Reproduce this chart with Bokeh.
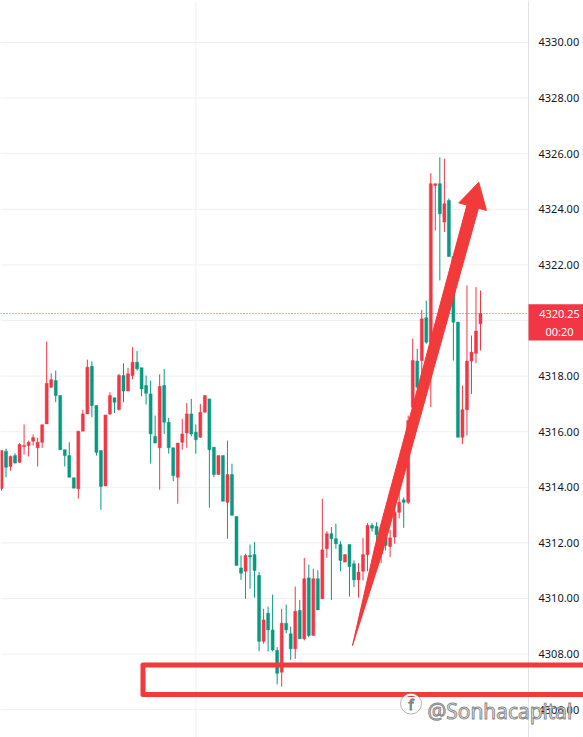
from bokeh.plotting import figure
from bokeh.models import Range1d, ColumnDataSource
from bokeh.core.properties import value
from bokeh.embed import file_html
from bokeh.resources import INLINE

# ---- candle data (red = rising, green = falling) ----
opens = [4313.96, 4315.30, 4314.75, 4315.14, 4314.90, 4315.47, 4315.50, 4315.66, 4315.42, 4315.62,
         4316.28, 4317.60, 4317.84, 4317.30, 4315.35, 4315.14, 4314.34, 4313.95, 4316.02, 4316.64,
         4318.35, 4316.94, 4315.32, 4314.05, 4316.64, 4317.22, 4316.80, 4318.02, 4317.46, 4318.02,
         4318.50, 4318.30, 4317.66, 4317.36, 4315.83, 4315.42, 4317.66, 4316.34, 4315.42, 4314.36,
         4315.62, 4315.95, 4316.64, 4315.98, 4315.80, 4316.70, 4317.18, 4315.44, 4314.46, 4315.14,
         4313.46, 4314.46, 4312.95, 4311.10, 4310.98, 4311.55, 4311.58, 4310.83, 4308.46, 4309.47,
         4308.87, 4308.13, 4307.35, 4309.11, 4308.73, 4308.19, 4309.57, 4308.55, 4310.74, 4308.67,
         4310.71, 4309.99, 4311.79, 4312.33, 4312.15, 4311.94, 4311.31, 4311.94, 4311.25, 4310.67,
         4310.98, 4311.58, 4312.63, 4312.59, 4311.61, 4312.21, 4311.87, 4312.21, 4313.10, 4313.55,
         4313.46, 4316.88, 4318.54, 4318.56, 4320.10, 4319.22, 4324.86, 4324.92, 4323.54, 4324.32,
         4322.30, 4319.94, 4315.80, 4316.79, 4318.54, 4318.82, 4319.88]
highs = [4315.32, 4315.39, 4315.14, 4315.22, 4315.59, 4316.26, 4315.68, 4315.90, 4315.78, 4316.25,
         4319.24, 4318.10, 4318.20, 4317.30, 4315.35, 4315.62, 4314.34, 4316.02, 4316.79, 4318.59,
         4318.53, 4316.94, 4315.32, 4316.60, 4317.42, 4317.22, 4318.08, 4318.46, 4318.30, 4319.04,
         4318.90, 4318.30, 4318.02, 4317.84, 4316.58, 4318.06, 4318.26, 4316.50, 4315.42, 4315.59,
         4316.46, 4317.03, 4317.18, 4316.26, 4317.00, 4317.30, 4317.18, 4315.44, 4315.14, 4315.14,
         4315.68, 4314.85, 4312.95, 4311.55, 4311.61, 4311.94, 4312.03, 4310.95, 4309.63, 4309.71,
         4310.14, 4308.25, 4309.63, 4309.78, 4308.99, 4310.43, 4309.95, 4311.46, 4311.22, 4311.07,
         4311.01, 4313.59, 4312.42, 4312.57, 4312.69, 4312.06, 4311.58, 4311.94, 4311.37, 4311.27,
         4312.18, 4312.71, 4312.71, 4312.74, 4312.57, 4312.47, 4312.47, 4314.00, 4314.17, 4313.64,
         4316.58, 4319.35, 4318.98, 4320.38, 4320.71, 4325.30, 4324.92, 4325.87, 4325.82, 4324.39,
         4322.30, 4319.94, 4317.66, 4321.26, 4319.46, 4321.20, 4321.08]
lows = [4313.88, 4314.36, 4314.60, 4314.86, 4314.87, 4315.18, 4315.11, 4315.50, 4314.75, 4315.42,
        4316.28, 4317.58, 4317.06, 4315.35, 4314.75, 4314.36, 4313.97, 4313.59, 4316.02, 4316.64,
        4316.52, 4315.14, 4313.19, 4314.05, 4316.60, 4316.67, 4316.76, 4317.06, 4317.46, 4317.88,
        4318.20, 4317.27, 4316.98, 4314.85, 4315.59, 4313.91, 4315.92, 4315.21, 4314.22, 4313.41,
        4315.35, 4315.42, 4315.83, 4315.21, 4315.78, 4316.70, 4313.27, 4314.36, 4314.46, 4313.50,
        4312.15, 4312.99, 4311.19, 4310.67, 4309.99, 4310.35, 4310.03, 4308.10, 4308.37, 4308.10,
        4308.10, 4306.91, 4306.83, 4308.75, 4307.79, 4307.83, 4308.55, 4308.49, 4308.61, 4308.67,
        4309.59, 4309.99, 4311.46, 4309.95, 4311.79, 4310.98, 4311.31, 4310.07, 4310.41, 4310.03,
        4310.65, 4310.98, 4312.41, 4311.37, 4311.27, 4311.73, 4311.49, 4311.97, 4312.88, 4312.54,
        4313.40, 4316.52, 4317.54, 4317.63, 4319.16, 4316.88, 4323.24, 4321.44, 4323.18, 4322.30,
        4318.56, 4315.80, 4315.56, 4315.86, 4317.36, 4318.46, 4318.92]
closes = [4315.32, 4314.72, 4315.11, 4314.87, 4315.54, 4315.50, 4315.62, 4315.79, 4315.62, 4316.25,
          4317.74, 4317.87, 4317.30, 4315.35, 4315.14, 4314.36, 4313.97, 4316.02, 4316.64, 4318.32,
          4316.94, 4315.26, 4314.03, 4316.60, 4317.30, 4317.06, 4318.02, 4317.46, 4318.08, 4318.50,
          4318.26, 4317.54, 4317.38, 4315.92, 4315.59, 4317.63, 4316.34, 4315.42, 4314.42, 4315.59,
          4315.92, 4316.64, 4315.92, 4315.71, 4316.70, 4317.30, 4315.35, 4314.46, 4315.14, 4313.50,
          4314.46, 4312.99, 4311.19, 4310.91, 4311.55, 4311.49, 4311.01, 4308.46, 4309.23, 4308.87,
          4308.15, 4307.31, 4309.11, 4308.87, 4308.19, 4309.54, 4308.55, 4310.71, 4308.67, 4310.71,
          4309.59, 4311.75, 4312.33, 4312.15, 4311.97, 4311.37, 4311.58, 4311.15, 4310.67, 4310.95,
          4311.58, 4312.63, 4312.53, 4312.30, 4312.33, 4311.91, 4312.18, 4313.10, 4313.46, 4313.46,
          4316.40, 4318.56, 4317.60, 4320.06, 4319.22, 4324.92, 4324.92, 4323.84, 4324.20, 4322.30,
          4319.94, 4315.80, 4316.79, 4318.54, 4318.86, 4319.62, 4320.25]

tick_values = [4306, 4308, 4310, 4312, 4314, 4316, 4318, 4320, 4322, 4324, 4326, 4328, 4330]
last_price = 4320.25
countdown = "00:20"
watermark = "@Sonhacapital"

# annotation shapes (bar index, price)
arrow_x = [77.67, 82.65, 102.99, 101.19, 105.62, 107.32, 105.55, 84.55]
arrow_y = [4308.31, 4311.88, 4324.15, 4324.23, 4324.97, 4323.96, 4324.04, 4311.79]
zone_left, zone_right = 31.31, 140.0
zone_top, zone_bottom = 4307.61, 4306.55

UP = "#f23645"
DOWN = "#089981"
MARK = "#f23a3a"

x_start, x_end = -0.221, 128.79
y_low, y_high = 4305.0, 4331.51
sep_x = 116.62

idx = list(range(len(opens)))
colors = [UP if c >= o else DOWN for o, c in zip(opens, closes)]
src = ColumnDataSource(dict(
    x=idx, o=opens, h=highs, l=lows, c=closes,
    top=[max(o, c) for o, c in zip(opens, closes)],
    bot=[min(o, c) for o, c in zip(opens, closes)],
    color=colors,
))

p = figure(width=583, height=737, x_range=Range1d(x_start, x_end), y_range=Range1d(y_low, y_high),
           x_axis_type=None, y_axis_type=None, toolbar_location=None, output_backend="svg",
           min_border=0, outline_line_color=None, background_fill_color="white",
           border_fill_color="white")

# grid
p.segment(x0=[x_start] * len(tick_values), y0=tick_values, x1=[sep_x] * len(tick_values), y1=tick_values,
          line_color="#eef0f4", line_width=1)
p.segment(x0=[43], y0=[y_low], x1=[43], y1=[y_high], line_color="#eef0f4", line_width=1)

# last price line
p.segment(x0=[x_start], y0=[last_price], x1=[sep_x], y1=[last_price],
          line_color=UP, line_width=1, line_dash="1 2")

# candles
p.segment(x0="x", y0="h", x1="x", y1="l", line_color="color", line_width=1, source=src)
p.vbar(x="x", width=0.66, top="top", bottom="bot", fill_color="color", line_color="color",
       line_width=0.5, source=src)

# price scale separator and labels
p.segment(x0=[sep_x], y0=[y_low], x1=[sep_x], y1=[y_high], line_color="#e0e3eb", line_width=1)
p.text(x=[sep_x] * len(tick_values), y=tick_values, text=["%.2f" % v for v in tick_values],
       x_offset=10, text_align="left", text_baseline="middle", text_font=value("Noto Sans"),
       text_font_size="11px", text_color="#131722")

# last price badge
p.quad(left=[sep_x], right=[x_end], top=[4320.58], bottom=[4319.28], fill_color=UP, line_color=None)
p.text(x=[123.48, 123.48], y=[last_price, 4319.60], text=["%.2f" % last_price, countdown],
       text_align="center", text_baseline="middle", text_font=value("Noto Sans"),
       text_font_size="11px", text_color="white")

# annotations
p.patch(x=arrow_x, y=arrow_y, fill_color=MARK, line_color=MARK, line_width=1)
p.quad(left=[zone_left], right=[zone_right], top=[zone_top], bottom=[zone_bottom],
       fill_color=None, line_color=MARK, line_width=5, line_join="round")

# watermark (logo + handle)
p.circle(x=[90.62], y=[4306.22], radius=9, radius_units="screen", fill_color=None,
         line_color="#ffffff", line_width=2.2, line_alpha=0.95)
p.circle(x=[90.62], y=[4306.22], radius=10.5, radius_units="screen", fill_color=None,
         line_color="#8a8a8a", line_width=0.8, line_alpha=0.8)
p.text(x=[90.62], y=[4306.22], text=["f"], text_align="center", text_baseline="middle",
       text_font=value("Open Sans"), text_font_size="15px", text_color="white",
       text_outline_color="#7a7a7a")
p.text(x=[94.27], y=[4305.94], text=[watermark], text_align="left", text_baseline="alphabetic",
       text_font=value("Open Sans"), text_font_size="21px", text_color="white",
       text_outline_color="#8a8a8a")

open("out.html", "w").write(file_html(p, INLINE))
